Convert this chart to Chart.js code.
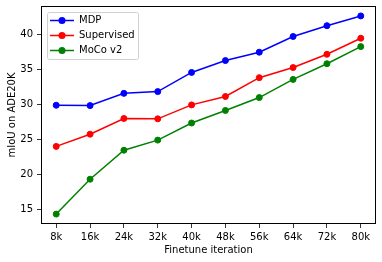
<!DOCTYPE html>
<html>
<head>
<meta charset="utf-8">
<script src="https://cdn.jsdelivr.net/npm/chart.js@4/dist/chart.umd.min.js"></script>
<style>
  html, body { margin: 0; padding: 0; background: #fff; }
  canvas { display: block; }
</style>
</head>
<body>
<canvas id="myChart" width="382" height="262"></canvas>
<script>
// Datos
const iteraciones = ['8k', '16k', '24k', '32k', '40k', '48k', '56k', '64k', '72k', '80k'];
const mdp = [29.9, 29.85, 31.6, 31.85, 34.6, 36.3, 37.5, 39.75, 41.3, 42.7];
const supervised = [24.0, 25.75, 28.0, 27.95, 29.95, 31.15, 33.85, 35.3, 37.2, 39.5];
const mocoV2 = [14.3, 19.3, 23.45, 24.9, 27.35, 29.15, 31.0, 33.6, 35.85, 38.3];
const yTicks = [15, 20, 25, 30, 35, 40];

const FONT = 'DejaVu Sans';
Chart.defaults.font.family = FONT;
Chart.defaults.font.size = 10;
Chart.defaults.color = '#000';

function puntos(valores) {
    return valores.map((v, i) => ({ x: i, y: v }));
}

function serie(label, valores, color) {
    return {
        label: label,
        data: puntos(valores),
        borderColor: color,
        backgroundColor: color,
        borderWidth: 1.5,
        pointRadius: 3,
        pointBorderWidth: 1,
        pointHoverRadius: 3,
        tension: 0
    };
}

// Marco y leyenda al estilo matplotlib
const marcoYLeyenda = {
    id: 'marcoYLeyenda',
    afterDraw(chart) {
        const c = chart.ctx;
        const a = chart.chartArea;
        c.save();
        c.strokeStyle = '#000';
        c.lineWidth = 1;
        c.strokeRect(Math.round(a.left) + 0.5, Math.round(a.top) + 0.5,
            Math.round(a.right - a.left) - 1, Math.round(a.bottom - a.top) - 1);

        // leyenda
        const bx = a.left + 6, by = a.top + 6, bw = 91, bh = 47;
        c.beginPath();
        c.roundRect(bx + 0.5, by + 0.5, bw, bh, 2);
        c.fillStyle = 'rgba(255,255,255,0.8)';
        c.fill();
        c.strokeStyle = '#d0d0d0';
        c.lineWidth = 1;
        c.stroke();
        c.font = '10px ' + FONT;
        c.textBaseline = 'middle';
        chart.data.datasets.forEach((ds, i) => {
            const y = by + 8.5 + i * 15;
            c.strokeStyle = ds.borderColor;
            c.lineWidth = 1.5;
            c.beginPath();
            c.moveTo(bx + 3, y);
            c.lineTo(bx + 27, y);
            c.stroke();
            c.fillStyle = ds.borderColor;
            c.beginPath();
            c.arc(bx + 15, y, 3.5, 0, Math.PI * 2);
            c.fill();
            c.fillStyle = '#000';
            c.fillText(ds.label, bx + 32, y);
        });
        c.restore();
    }
};

const ctx = document.getElementById('myChart').getContext('2d');
const myChart = new Chart(ctx, {
    type: 'line',
    data: {
        datasets: [
            serie('MDP', mdp, '#0000ff'),
            serie('Supervised', supervised, '#ff0000'),
            serie('MoCo v2', mocoV2, '#008000')
        ]
    },
    options: {
        responsive: false,
        animation: false,
        devicePixelRatio: 1,
        layout: { padding: { top: 6, right: 6, left: 0, bottom: 0 } },
        plugins: {
            legend: { display: false },
            tooltip: { enabled: false }
        },
        scales: {
            x: {
                type: 'linear',
                min: -0.45,
                max: iteraciones.length - 1 + 0.45,
                afterBuildTicks: (s) => { s.ticks = iteraciones.map((_, i) => ({ value: i })); },
                afterFit: (s) => { s.height = 38; s.paddingLeft = 0; s.paddingRight = 0; },
                ticks: {
                    callback: (v) => iteraciones[v],
                    padding: 3,
                    maxRotation: 0,
                    autoSkip: false
                },
                grid: { drawOnChartArea: false, tickLength: 4, color: '#000', lineWidth: 0.8 },
                border: { display: false },
                title: { display: true, text: 'Finetune iteration', padding: { top: 6, bottom: 6 } }
            },
            y: {
                min: 12.88,
                max: 44.12,
                afterBuildTicks: (s) => { s.ticks = yTicks.map(v => ({ value: v })); },
                afterFit: (s) => { s.width = 41; s.paddingTop = 0; s.paddingBottom = 0; },
                ticks: { padding: 4 },
                grid: { drawOnChartArea: false, tickLength: 4, color: '#000', lineWidth: 0.8 },
                border: { display: false },
                title: { display: true, text: 'mIoU on ADE20K', padding: { top: 6, bottom: 0 } }
            }
        }
    },
    plugins: [marcoYLeyenda]
});
</script>
</body>
</html>
